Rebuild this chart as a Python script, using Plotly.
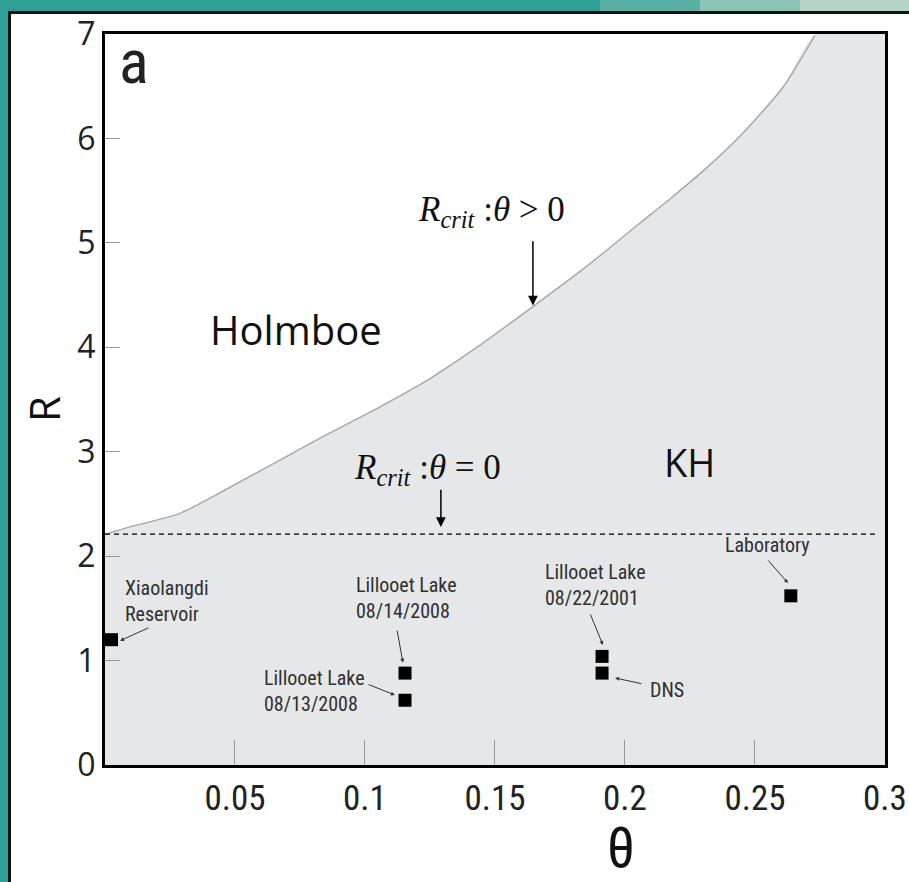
import plotly.graph_objects as go

# Critical R for theta > 0 (boundary between Holmboe and KH regimes)
theta_curve = [0.0, 0.0096, 0.0288, 0.0481, 0.0673, 0.0865, 0.1058, 0.125, 0.1442, 0.1646, 0.185,
               0.2058, 0.2173, 0.2315, 0.2442, 0.2608, 0.2731]
r_curve = [2.21, 2.28, 2.41, 2.66, 2.92, 3.18, 3.43, 3.70, 4.02, 4.39, 4.77,
           5.19, 5.42, 5.72, 6.02, 6.49, 6.99]

# Critical R for theta = 0 (horizontal dashed line)
r_crit_zero = 2.21
dash_end = 0.297

# Observed / simulated cases
site_names = ["Xiaolangdi Reservoir", "Lillooet Lake 08/14/2008", "Lillooet Lake 08/13/2008",
              "Lillooet Lake 08/22/2001", "DNS", "Laboratory"]
site_theta = [0.0025, 0.1154, 0.1154, 0.1912, 0.1912, 0.2638]
site_r = [1.20, 0.88, 0.62, 1.04, 0.88, 1.62]

x_ticks = [0.05, 0.1, 0.15, 0.2, 0.25, 0.3]
x_tick_text = ["0.05", "0.1", "0.15", "0.2", "0.25", "0.3"]
y_ticks = [0, 1, 2, 3, 4, 5, 6, 7]

X_MAX, Y_MAX = 0.3, 7

TEAL = "#2f9e95"
SHADE = "#e6e7e9"
NARROW = "Roboto Condensed, Noto Sans CJK SC, sans-serif"
SANS = "Open Sans, sans-serif"
SERIF = "Liberation Serif, Times New Roman, serif"
INK = "#303030"

fig = go.Figure()

# KH region: everything below the critical curve
fig.add_trace(go.Scatter(
    x=theta_curve + [X_MAX], y=r_curve + [Y_MAX],
    mode="lines", fill="tozeroy", fillcolor=SHADE,
    line=dict(width=0, shape="spline", smoothing=0.6), hoverinfo="skip", showlegend=False))

# Critical curve
fig.add_trace(go.Scatter(
    x=theta_curve, y=r_curve, mode="lines",
    line=dict(color="#a8a8a8", width=1.5, shape="spline", smoothing=0.6),
    hoverinfo="skip", showlegend=False))

# theta = 0 threshold
fig.add_trace(go.Scatter(
    x=[0, dash_end], y=[r_crit_zero, r_crit_zero], mode="lines",
    line=dict(color="black", width=1.2, dash="5px,4px"),
    hoverinfo="skip", showlegend=False))

# Cases
fig.add_trace(go.Scatter(
    x=site_theta, y=site_r, mode="markers", text=site_names,
    marker=dict(symbol="square", size=13, color="black"),
    showlegend=False))

annotations = []

def label(text, x, y, size, family, color=INK, xanchor="center", align="center"):
    annotations.append(dict(text=text, x=x, y=y, xref="x", yref="y", showarrow=False,
                            font=dict(size=size, family=family, color=color),
                            xanchor=xanchor, yanchor="middle", align=align))

def arrow(x_tail, y_tail, x_head, y_head, width=1.0, size=0.8, color="#333333"):
    annotations.append(dict(text="", x=x_head, y=y_head, ax=x_tail, ay=y_tail,
                            xref="x", yref="y", axref="x", ayref="y",
                            showarrow=True, arrowhead=2, arrowsize=size,
                            arrowwidth=width, arrowcolor=color))

# Panel letter and regime names
label("a", 0.0112, 6.74, 62, NARROW, color="#222222")
label("Holmboe", 0.0735, 4.17, 40, SANS, color="#111111")
label("KH", 0.225, 2.90, 38, SANS, color="#111111")

# Critical-R labels with arrows
label("<i>R</i><sub><i>crit</i></sub> :<i>θ</i> > 0", 0.1488, 5.30, 35, SERIF, color="#111111")
arrow(0.1646, 5.03, 0.1646, 4.40, width=1.5, size=1.3, color="black")
label("<i>R</i><sub><i>crit</i></sub> :<i>θ</i> = 0", 0.1242, 2.83, 35, SERIF, color="#111111")
arrow(0.1292, 2.65, 0.1292, 2.28, width=1.5, size=1.3, color="black")

# Case labels
label("Xiaolangdi<br>Reservoir", 0.0069, 1.57, 20, NARROW, xanchor="left", align="left")
arrow(0.0173, 1.32, 0.0058, 1.19)
label("Lillooet Lake<br>08/14/2008", 0.0958, 1.60, 20, NARROW, xanchor="left", align="left")
arrow(0.1123, 1.30, 0.1146, 0.98)
label("Lillooet Lake<br>08/13/2008", 0.0604, 0.71, 20, NARROW, xanchor="left", align="left")
arrow(0.1008, 0.776, 0.1115, 0.67)
label("Lillooet Lake<br>08/22/2001", 0.1685, 1.72, 20, NARROW, xanchor="left", align="left")
arrow(0.1865, 1.456, 0.1915, 1.15)
label("DNS", 0.2088, 0.718, 20, NARROW, xanchor="left", align="left")
arrow(0.2069, 0.776, 0.1962, 0.833)
label("Laboratory", 0.2377, 2.107, 20, NARROW, xanchor="left", align="left")
arrow(0.2546, 1.973, 0.2627, 1.743)

# Axis titles
annotations.append(dict(text="R", x=(43 - 105) / 780, y=0.487, xref="paper", yref="paper",
                        showarrow=False, textangle=-90,
                        font=dict(size=42, family=SANS, color="#111111"),
                        xanchor="center", yanchor="middle"))
annotations.append(dict(text="θ", x=0.662, y=-0.113, xref="paper", yref="paper", showarrow=False,
                        font=dict(size=56, family=NARROW, color="#111111"),
                        xanchor="center", yanchor="middle"))

# Framed white panel on a teal background
shapes = [
    dict(type="rect", xref="paper", yref="paper", x0=(600 - 105) / 780, x1=(700 - 105) / 780,
         y0=(765 - 12) / 731, y1=(765 + 2) / 731, fillcolor="#5aafa4", line=dict(width=0), layer="below"),
    dict(type="rect", xref="paper", yref="paper", x0=(700 - 105) / 780, x1=(800 - 105) / 780,
         y0=(765 - 12) / 731, y1=(765 + 2) / 731, fillcolor="#8dc4b8", line=dict(width=0), layer="below"),
    dict(type="rect", xref="paper", yref="paper", x0=(800 - 105) / 780, x1=(912 - 105) / 780,
         y0=(765 - 12) / 731, y1=(765 + 2) / 731, fillcolor="#b6d3c7", line=dict(width=0), layer="below"),
    dict(type="rect", xref="paper", yref="paper", x0=(9.5 - 105) / 780, x1=(915 - 105) / 780,
         y0=(765 - 890) / 731, y1=(765 - 12.5) / 731, fillcolor="white",
         line=dict(color="#111111", width=3), layer="below"),
]

fig.update_layout(
    width=909, height=882,
    margin=dict(l=105, r=24, t=34, b=117, autoexpand=False),
    paper_bgcolor=TEAL, plot_bgcolor="white",
    annotations=annotations, shapes=shapes,
    xaxis=dict(range=[0, X_MAX * 1.0001], tickvals=x_ticks, ticktext=x_tick_text,
               showgrid=False, zeroline=False, showline=True, mirror=True, automargin=False,
               linecolor="black", linewidth=3, ticks="inside", ticklen=25,
               tickcolor="#9a9a9a", tickwidth=1, ticklabeloverflow="allow",
               tickfont=dict(size=35, family=NARROW, color="#222222")),
    yaxis=dict(range=[0, Y_MAX], tickvals=y_ticks, automargin=False,
               showgrid=False, zeroline=False, showline=True, mirror=True,
               linecolor="black", linewidth=3, ticks="inside", ticklen=15,
               tickcolor="#9a9a9a", tickwidth=1,
               tickfont=dict(size=32, family=SANS, color="#222222")),
)

fig.write_html("out.html")
